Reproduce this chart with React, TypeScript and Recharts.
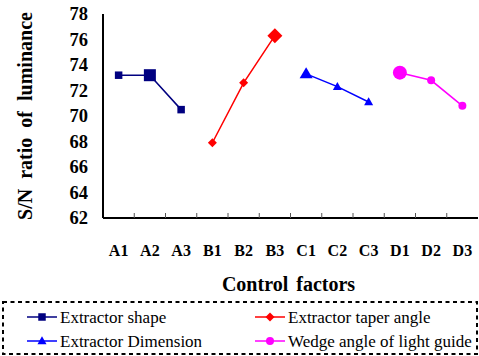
import React from 'react';
import { LineChart, Line, XAxis, YAxis, Legend } from 'recharts';

const categories = ['A1', 'A2', 'A3', 'B1', 'B2', 'B3', 'C1', 'C2', 'C3', 'D1', 'D2', 'D3'];
const extractorShape = [73.2, 73.2, 70.5];
const extractorTaperAngle = [67.9, 72.6, 76.3];
const extractorDimension = [73.3, 72.3, 71.1];
const wedgeAngle = [73.4, 72.8, 70.8];
const optimalLevels = ['A2', 'B3', 'C1', 'D1'];
const yTicks = [62, 64, 66, 68, 70, 72, 74, 76, 78];
const xTicks = [0.5, 1, 1.5, 2, 2.5, 3, 3.5, 4, 4.5, 5, 5.5, 6, 6.5, 7, 7.5, 8, 8.5, 9, 9.5, 10, 10.5, 11, 11.5];

const FONT = 'Liberation Serif';

type Marker = 'square' | 'diamond' | 'triangle' | 'circle';
const seriesDefs: { key: string; name: string; values: number[]; start: number; color: string; marker: Marker }[] = [
  { key: 'shape', name: 'Extractor shape', values: extractorShape, start: 0, color: '#000080', marker: 'square' },
  { key: 'taper', name: 'Extractor taper angle', values: extractorTaperAngle, start: 3, color: '#ff0000', marker: 'diamond' },
  { key: 'dim', name: 'Extractor Dimension', values: extractorDimension, start: 6, color: '#0000ff', marker: 'triangle' },
  { key: 'wedge', name: 'Wedge angle of light guide', values: wedgeAngle, start: 9, color: '#ff00ff', marker: 'circle' },
];

const data = categories.map((cat, i) => {
  const row: any = { cat, idx: i + 0.5 };
  seriesDefs.forEach((s) => {
    const j = i - s.start;
    row[s.key] = j >= 0 && j < s.values.length ? s.values[j] : null;
  });
  return row;
});

function markerShape(marker: Marker, cx: number, cy: number, big: boolean, color: string, key?: any) {
  if (marker === 'square') {
    const s = big ? 12 : 7.5;
    return <rect key={key} x={cx - s / 2} y={cy - s / 2} width={s} height={s} fill={color} />;
  }
  if (marker === 'diamond') {
    const r = big ? 7.5 : 4.5;
    return <polygon key={key} points={`${cx},${cy - r} ${cx + r},${cy} ${cx},${cy + r} ${cx - r},${cy}`} fill={color} />;
  }
  if (marker === 'triangle') {
    const w = big ? 13 : 9;
    const h = big ? 11 : 8;
    return <polygon key={key} points={`${cx},${cy - h * 0.6} ${cx + w / 2},${cy + h * 0.4} ${cx - w / 2},${cy + h * 0.4}`} fill={color} />;
  }
  const r = big ? 7 : 4;
  return <circle key={key} cx={cx} cy={cy} r={r} fill={color} />;
}

const makeDot = (s: { key: string; marker: Marker; color: string }) => (props: any) => {
  const { cx, cy, payload, index } = props;
  if (cy == null || cx == null || payload[s.key] == null) {
    return <g key={`e-${index}`} />;
  }
  return markerShape(s.marker, cx, cy, optimalLevels.includes(payload.cat), s.color, `d-${index}`);
};

const XTick = (props: any) => {
  const { x, y, payload } = props;
  const v = payload.value;
  if (Number.isInteger(v)) {
    return <line x1={x} y1={y} x2={x} y2={y - 5} stroke="#555" strokeWidth={1} />;
  }
  const label = categories[Math.round(v - 0.5)];
  return (
    <text x={x} y={y + 38} textAnchor="middle" fontFamily={FONT} fontWeight="bold" fontSize={16} fill="#000" style={{ fontFamily: FONT }}>
      {label}
    </text>
  );
};

const YTick = (props: any) => {
  const { x, y, payload } = props;
  return (
    <text x={x} y={y + 6} textAnchor="end" fontFamily={FONT} fontWeight="bold" fontSize={18.5} fill="#000" style={{ fontFamily: FONT }}>
      {payload.value}
    </text>
  );
};

const LegendContent = () => {
  const cols = [25, 253];
  const rows = [16, 40];
  return (
    <svg width={476} height={54} style={{ display: 'block', fontFamily: FONT }}>
      <rect x={1} y={1} width={474} height={52} fill="none" stroke="#000" strokeWidth={2} strokeDasharray="4 3.5" />
      {seriesDefs.map((s, i) => {
        const x0 = cols[i % 2];
        const y0 = rows[Math.floor(i / 2)];
        return (
          <g key={s.key}>
            <line x1={x0} y1={y0} x2={x0 + 30} y2={y0} stroke={s.color} strokeWidth={1.5} />
            {markerShape(s.marker, x0 + 15, y0, false, s.color)}
            <text x={x0 + 33} y={y0 + 6} fontFamily={FONT} fontSize={17} fill="#000" style={{ fontFamily: FONT }}>
              {s.name}
            </text>
          </g>
        );
      })}
    </svg>
  );
};

export default function App() {
  return (
    <div style={{ position: 'absolute', left: 0, top: 0, width: 479, height: 356, background: '#fff', fontFamily: FONT }}>
      <LineChart width={479} height={356} data={data} margin={{ top: 14, right: 1, bottom: 0, left: 0 }} style={{ fontFamily: FONT }}>
        <XAxis
          dataKey="idx"
          type="number"
          domain={[0, 12]}
          ticks={xTicks}
          interval={0}
          tickSize={0}
          tickMargin={0}
          tickLine={false}
          tick={<XTick />}
          axisLine={{ stroke: '#000', strokeWidth: 2 }}
          height={138}
          label={(p: any) => {
            const vb = p.viewBox;
            return (
              <text x={vb.x + vb.width / 2 - 2} y={vb.y + 73} textAnchor="middle" fontFamily={FONT} fontWeight="bold" fontSize={20} fill="#000" style={{ wordSpacing: 3, fontFamily: FONT }}>
                Control factors
              </text>
            );
          }}
        />
        <XAxis xAxisId="top" orientation="top" type="number" domain={[0, 12]} tick={false} tickLine={false} height={0} axisLine={{ stroke: '#000', strokeWidth: 2 }} />
        <YAxis
          domain={[62, 78]}
          ticks={yTicks}
          interval={0}
          width={103}
          tickSize={0}
          tickMargin={15}
          tickLine={false}
          axisLine={{ stroke: '#000', strokeWidth: 2 }}
          tick={<YTick />}
          label={(p: any) => {
            const vb = p.viewBox;
            const cx = 25;
            const cy = vb.y + vb.height / 2;
            return (
              <text x={cx} y={cy} transform={`rotate(-90 ${cx} ${cy})`} textAnchor="middle" dy={7} fontFamily={FONT} fontWeight="bold" fontSize={20} fill="#000" style={{ wordSpacing: 5, fontFamily: FONT }}>
                S/N ratio of luminance
              </text>
            );
          }}
        />
        <YAxis yAxisId="right" orientation="right" domain={[62, 78]} width={0} tick={false} tickLine={false} axisLine={{ stroke: '#000', strokeWidth: 2 }} />
        {seriesDefs.map((s) => (
          <Line
            key={s.key}
            dataKey={s.key}
            name={s.name}
            stroke={s.color}
            strokeWidth={1.5}
            dot={makeDot(s)}
            activeDot={false}
            connectNulls={false}
            isAnimationActive={false}
          />
        ))}
        <Legend
          layout="horizontal"
          verticalAlign="middle"
          align="center"
          content={<LegendContent />}
          wrapperStyle={{ position: 'absolute', left: 2, top: 301, width: 476, height: 54 }}
        />
      </LineChart>
    </div>
  );
}
